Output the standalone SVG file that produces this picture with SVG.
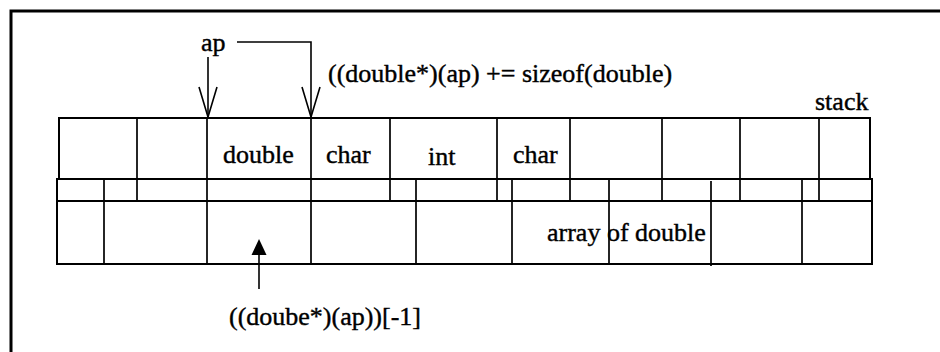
<svg xmlns="http://www.w3.org/2000/svg" width="940" height="352" viewBox="0 0 940 352">
  <style>
    .t { font-family: "Liberation Serif", "DejaVu Serif", serif; font-size: 26px; fill: #000; stroke: #000; stroke-width: 0.4; }
    .ln { stroke: #000; stroke-width: 1.7; fill: none; }
    .edge { stroke: #000; stroke-width: 2; fill: none; }
    .arr { stroke: #000; stroke-width: 1.6; fill: none; }
  </style>
  <defs>
    <marker id="head-open" viewBox="0 0 32 20" refX="31" refY="10" markerWidth="32" markerHeight="20" markerUnits="userSpaceOnUse" orient="auto">
      <path d="M1,1 L31,10 L1,19" stroke="#000" stroke-width="1.6" fill="none"/>
    </marker>
  </defs>
  <rect width="940" height="352" fill="#fff"/>

  <!-- page frame -->
  <g id="frame">
    <path d="M11,352 L11,11 L940,11" stroke="#000" stroke-width="3" fill="none"/>
  </g>

  <!-- stack memory layout -->
  <g id="stack">
    <!-- upper row of slots -->
    <g id="row-top">
      <path class="edge" d="M59,179 L59,118 L870,118 L870,179"/>
      <path class="ln" d="M137,118 V201 M207,118 V201 M311,118 V264 M390,118 V201 M497,118 V201 M570,118 V201 M662,118 V201 M740,118 V201 M819,118 V201"/>
    </g>
    <!-- narrow band -->
    <g id="row-band">
      <rect class="edge" x="57" y="179" width="815" height="22"/>
      <path class="ln" d="M104,179 V264 M416,179 V264 M512,179 V264 M609,179 V264 M711,181 V266 M802,179 V264"/>
    </g>
    <!-- lower row of slots -->
    <g id="row-bottom">
      <path class="edge" d="M57,201 L57,264 L872,264 L872,201"/>
      <path class="ln" d="M207,201 V264"/>
    </g>
    <text class="t" x="223" y="163">double</text>
    <text class="t" x="326" y="163">char</text>
    <text class="t" x="428" y="165">int</text>
    <text class="t" x="513" y="163">char</text>
    <text class="t" x="547" y="241">array of double</text>
    <text class="t" x="815" y="110">stack</text>
  </g>

  <!-- pointer labels -->
  <g id="label-ap">
    <text class="t" x="201" y="51">ap</text>
  </g>
  <g id="label-advance">
    <text class="t" x="328" y="82">((double*)(ap) += sizeof(double)</text>
  </g>
  <g id="label-index">
    <text class="t" x="229" y="325">((doube*)(ap))[-1]</text>
  </g>

  <!-- connectors -->
  <g id="connectors">
    <path class="arr" d="M208,57 L208,117" marker-end="url(#head-open)"/>
    <path class="arr" d="M237,42 L311,42 L311,117" marker-end="url(#head-open)"/>
    <path class="arr" d="M259,289 L259,252"/>
    <polygon points="259,239 251.5,255 266.5,255" fill="#000"/>
  </g>
</svg>
